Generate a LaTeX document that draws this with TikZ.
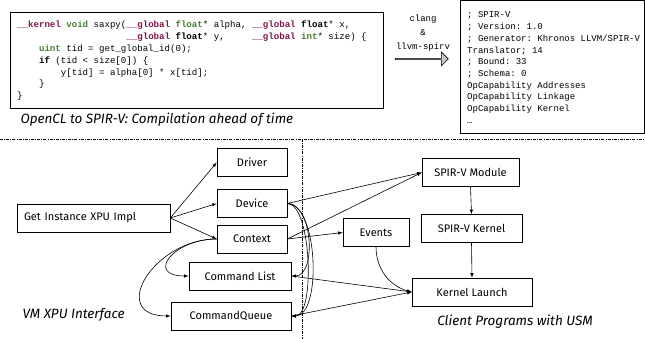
\documentclass[tikz,border=0pt]{standalone}
\usepackage{fontspec}
\setmainfont{Fira Sans}
\setmonofont{Liberation Mono}
\usetikzlibrary{shapes.arrows}
\definecolor{kwred}{RGB}{128,20,75}
\definecolor{kwgreen}{RGB}{70,125,45}
\newcommand{\kwr}[1]{\textcolor{kwred}{\textbf{#1}}}
\newcommand{\kwg}[1]{\textcolor{kwgreen}{\textbf{#1}}}
\newcommand{\ind}[1]{\hphantom{#1}}
\tikzset{
	box/.style={draw, line width=0.6pt, minimum height=28pt, inner sep=0pt, font=\fontsize{11}{13}\selectfont},
	sep/.style={line width=0.5pt, dash pattern=on 3pt off 1.2pt on 0.8pt off 1.2pt},
	link/.style={line width=0.6pt, ->, >=latex},
	caption/.style={font=\fontsize{13.5}{15}\selectfont\itshape},
	listing/.style={draw, line width=0.6pt, anchor=north west, inner sep=0pt},
	codeline/.style={anchor=base west, inner sep=0pt, font=\fontsize{9.1}{11}\selectfont\ttfamily}
}
\begin{document}
\begin{tikzpicture}[x=1pt, y=-1pt]
	\useasboundingbox (0,0) rectangle (645,339);
	\clip (0,0) rectangle (645,339);

	% ahead of time part
	\node[listing, minimum width=373pt, minimum height=96pt] (code) at (10,12) {};
	\foreach \row [count=\i] in {
		{\kwr{\_\_kernel} \kwg{void} saxpy(\kwr{\_\_global} \kwg{float}* alpha, \kwr{\_\_global} \textbf{float}* x,},
		{\ind{xxxxxxxxxxxxxxxxxxxx}\kwr{\_\_global} \textbf{float}* y,\ind{xxxxx}\kwr{\_\_global} \kwg{int}* size) \{},
		{\ind{xxxx}\kwg{uint} tid = get\_global\_id(0);},
		{\ind{xxxx}\textbf{if} (tid < size[0]) \{},
		{\ind{xxxxxxxx}y[tid] = alpha[0] * x[tid];},
		{\ind{xxxx}\}},
		{\}}}
		\node[codeline] (code\i) at (17,16.2+11.8*\i) {\row};
	\node[caption, anchor=west] (aotcap) at (17,120) {OpenCL to SPIR-V: Compilation ahead of time};
	\node[align=center, font=\fontsize{9}{14}\selectfont\ttfamily] (tool) at (423,33) {clang\\\&\\llvm-spirv};
	\node[single arrow, draw, fill=gray!45, line width=0.6pt, minimum height=53pt, minimum width=14pt, single arrow head extend=3pt, inner sep=0pt] (fat) at (421.5,59) {};
	\node[listing, minimum width=184pt, minimum height=132.5pt] (spirv) at (460,0.5) {};
	\foreach \row [count=\i] in {; SPIR-V, ; Version: 1.0, ; Generator: Khronos LLVM/SPIR-V, Translator; 14, ; Bound: 33, ; Schema: 0, OpCapability Addresses, OpCapability Linkage, OpCapability Kernel, …}
		\node[codeline, font=\fontsize{9}{11}\selectfont\ttfamily] (spirv\i) at (467,6.3+11.7*\i) {\row};

	\draw[sep] (0,139) -- (645,139);%horizontal separator
	\draw[sep] (302,139) -- (302,339);%vertical separator

	% VM XPU interface
	\node[box, minimum width=153pt, text width=139pt, align=left] (inst) at (93.5,218) {Get Instance XPU Impl};
	\node[box, minimum width=70pt] (driver) at (252,162.5) {Driver};
	\node[box, minimum width=70pt] (device) at (252,203.5) {Device};
	\node[box, minimum width=70pt] (context) at (252,239) {Context};
	\node[box, minimum width=102pt] (cmdlist) at (240,276) {Command List};
	\node[box, minimum width=120pt] (cmdqueue) at (231,316) {CommandQueue};
	\node[caption, anchor=west] (vmcap) at (19,315) {VM XPU Interface};

	% client side
	\node[box, minimum width=97pt] (module) at (470.5,172.5) {SPIR-V Module};
	\node[box, minimum width=101pt] (kernel) at (471.5,228.5) {SPIR-V Kernel};
	\node[box, minimum width=66pt] (events) at (376,232.5) {Events};
	\node[box, minimum width=120pt] (launch) at (472,292) {Kernel Launch};
	\node[caption] (usmcap) at (515,322) {Client Programs with USM};

	\draw[link] (inst.east) -- (driver.west);
	\draw[link] (inst.east) -- (device.west);
	\draw[link] (inst.east) -- (context.west);
	\draw[link] (context.west) to[out=180, in=180, looseness=2.4] (cmdlist.west);
	\draw[link] (context.west) to[out=180, in=180, looseness=1.8] (cmdqueue.west);
	\draw[link] (device.east) to[out=0, in=0, looseness=0.9] (cmdlist.east);
	\draw[link] (device.east) to[out=0, in=0, looseness=0.7] (cmdqueue.east);
	\draw[link] (device.east) to[out=0, in=0, looseness=0.55] (cmdqueue.east);

	\draw[link] (device.east) -- (module.west);
	\draw[link] (context.east) -- (module.west);
	\draw[link] (context.east) -- (events.west);
	\draw[link] (cmdlist.east) -- (launch.west);
	\draw[link] (cmdqueue.east) -- (launch.west);
	\draw[link] (events.south) to[out=-90, in=165] (launch.west);
	\draw[link] (module.south) -- (kernel.north);
	\draw[link] (kernel.south) -- (launch.north);
\end{tikzpicture}
\end{document}
